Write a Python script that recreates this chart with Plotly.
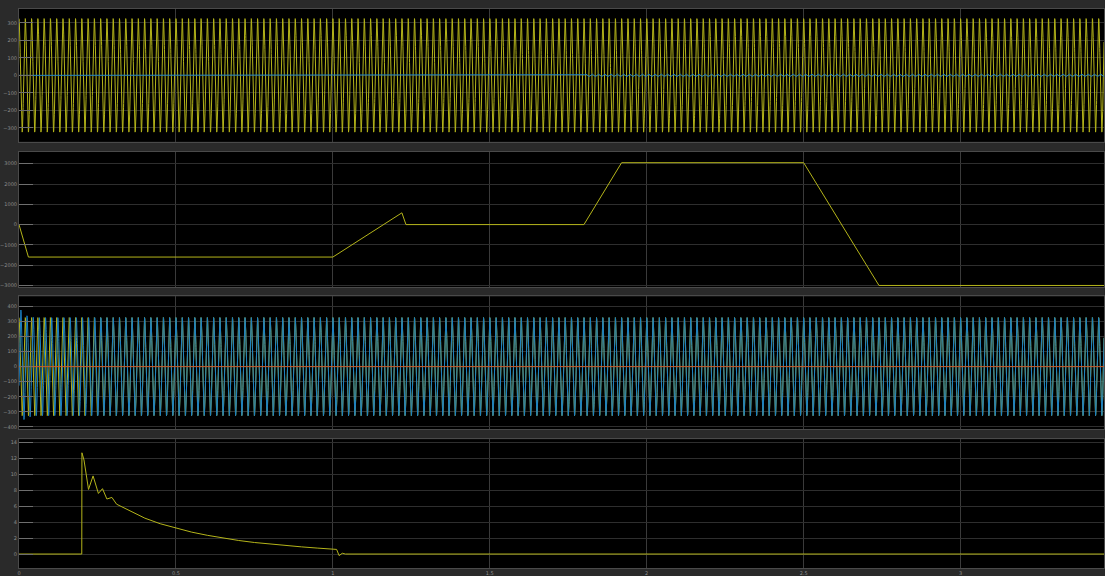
import numpy as np
import plotly.graph_objects as go
from plotly.subplots import make_subplots

# ---- signal parameters / data ----
T_END = 3.457
GRID_FREQ = 50.0                 # Hz
GRID_AMP = [325.0]               # phase voltage peak, panels 1 and 3
P1_BLUE_RIPPLE = [1.8, 8.0]      # start time (s), ripple amplitude
P3_BLUE_PHASE_T = [0.0, 0.05, 0.10, 0.15, 0.20, 0.25, 0.30]
P3_BLUE_PHASE = [-1.9, -1.6, -1.3, -1.0, -0.7, -0.35, 0.0]
P3_BLUE_AMP_T = [0.0, 0.02, 0.05]
P3_BLUE_AMP = [390.0, 340.0, 325.0]

# panel 2: power reference profile
P2_T = [0.0, 0.03, 1.0, 1.22, 1.233, 1.80, 1.92, 2.50, 2.74, T_END]
P2_V = [0.0, -1600.0, -1600.0, 580.0, 0.0, 0.0, 3050.0, 3050.0, -3000.0, -3000.0]

# panel 4: current transient
P4_T = [0.0, 0.2, 0.2005, 0.207, 0.2215, 0.236, 0.253, 0.266, 0.280, 0.296,
        0.311, 0.33, 0.349, 0.375, 0.401, 0.45, 0.5, 0.55, 0.6, 0.65, 0.7,
        0.75, 0.8, 0.85, 0.9, 0.95, 1.0, 1.012, 1.02, 1.03, 1.04, T_END]
P4_V = [0.0, 0.0, 12.7, 11.8, 8.1, 9.8, 7.6, 8.2, 6.9, 7.1,
        6.25, 5.9, 5.5, 5.0, 4.5, 3.8, 3.25, 2.75, 2.35, 2.0, 1.7,
        1.45, 1.25, 1.05, 0.9, 0.75, 0.62, 0.58, -0.2, 0.1, 0.0, 0.0]

Y1_TICKS = [-300, -200, -100, 0, 100, 200, 300]
Y2_TICKS = [-3000, -2000, -1000, 0, 1000, 2000, 3000]
Y3_TICKS = [-400, -300, -200, -100, 0, 100, 200, 300, 400]
Y4_TICKS = [0, 2, 4, 6, 8, 10, 12, 14]
X_TICKS = [0, 0.5, 1, 1.5, 2, 2.5, 3]
X_TICK_TEXT = ["0", "0.5", "1", "1.5", "2", "2.5", "3"]

YELLOW = "#b4b41a"
BLUE = "#1b80c4"
ORANGE = "#c85a28"

# ---- sampled waveforms ----
t = np.linspace(0.0, T_END, 14001)
w = 2 * np.pi * GRID_FREQ
grid_v = GRID_AMP[0] * np.cos(w * t)

p1_blue = np.where(t >= P1_BLUE_RIPPLE[0], P1_BLUE_RIPPLE[1] * np.sin(w * t), 0.0)

blue_phase = np.interp(t, P3_BLUE_PHASE_T, P3_BLUE_PHASE)
blue_amp = np.interp(t, P3_BLUE_AMP_T, P3_BLUE_AMP)
p3_blue = blue_amp * np.cos(w * t + blue_phase)

fig = make_subplots(rows=4, cols=1, shared_xaxes=True)

line1 = dict(width=1)
fig.add_trace(go.Scatter(x=t, y=grid_v, mode="lines", line=dict(color=YELLOW, **line1)), row=1, col=1)
fig.add_trace(go.Scatter(x=t, y=p1_blue, mode="lines", line=dict(color=BLUE, **line1)), row=1, col=1)

fig.add_trace(go.Scatter(x=P2_T, y=P2_V, mode="lines", line=dict(color=YELLOW, **line1)), row=2, col=1)

fig.add_trace(go.Scatter(x=t, y=grid_v, mode="lines", line=dict(color=YELLOW, **line1)), row=3, col=1)
fig.add_trace(go.Scatter(x=t, y=p3_blue, mode="lines", line=dict(color=BLUE, **line1)), row=3, col=1)
fig.add_trace(go.Scatter(x=[0, T_END], y=[0, 0], mode="lines", line=dict(color=ORANGE, **line1)), row=3, col=1)

fig.add_trace(go.Scatter(x=P4_T, y=P4_V, mode="lines", line=dict(color=YELLOW, **line1)), row=4, col=1)

H_PLOT = 569.0


def dom(top_px, bot_px):
    return [(H_PLOT - bot_px) / H_PLOT, (H_PLOT - top_px) / H_PLOT]


tick_font = dict(family="DejaVu Sans", size=5, color="#8c8c8c")
common_y = dict(showgrid=True, gridcolor="#2e2e2e", gridwidth=1, zeroline=False,
                showline=True, mirror=True, linecolor="#4a4a4a", linewidth=1,
                ticks="inside", ticklen=14, tickcolor="#6e6e6e", tickwidth=1,
                tickfont=tick_font, fixedrange=True)
common_x = dict(showgrid=True, gridcolor="#3a3a3a", gridwidth=1, zeroline=False,
                showline=True, mirror=True, linecolor="#4a4a4a", linewidth=1,
                range=[0, T_END], tickvals=X_TICKS, ticktext=X_TICK_TEXT,
                ticks="", tickfont=tick_font)

fig.update_layout(
    width=1105, height=576,
    margin=dict(l=17, r=0, t=0, b=7),
    paper_bgcolor="#2a2a2a",
    plot_bgcolor="#000000",
    showlegend=False,
    yaxis=dict(domain=dom(9, 142), range=[-380, 380], tickvals=Y1_TICKS, **common_y),
    yaxis2=dict(domain=dom(152, 288), range=[-3100, 3590], tickvals=Y2_TICKS, **common_y),
    yaxis3=dict(domain=dom(297, 430), range=[-415, 465], tickvals=Y3_TICKS, **common_y),
    yaxis4=dict(domain=dom(440, 569), range=[-1.75, 14.4], tickvals=Y4_TICKS, **common_y),
    xaxis=dict(showticklabels=False, **common_x),
    xaxis2=dict(showticklabels=False, **common_x),
    xaxis3=dict(showticklabels=False, **common_x),
    xaxis4=dict(showticklabels=True, **common_x),
)
fig.update_xaxes(matches="x")

fig.write_html("out.html")
